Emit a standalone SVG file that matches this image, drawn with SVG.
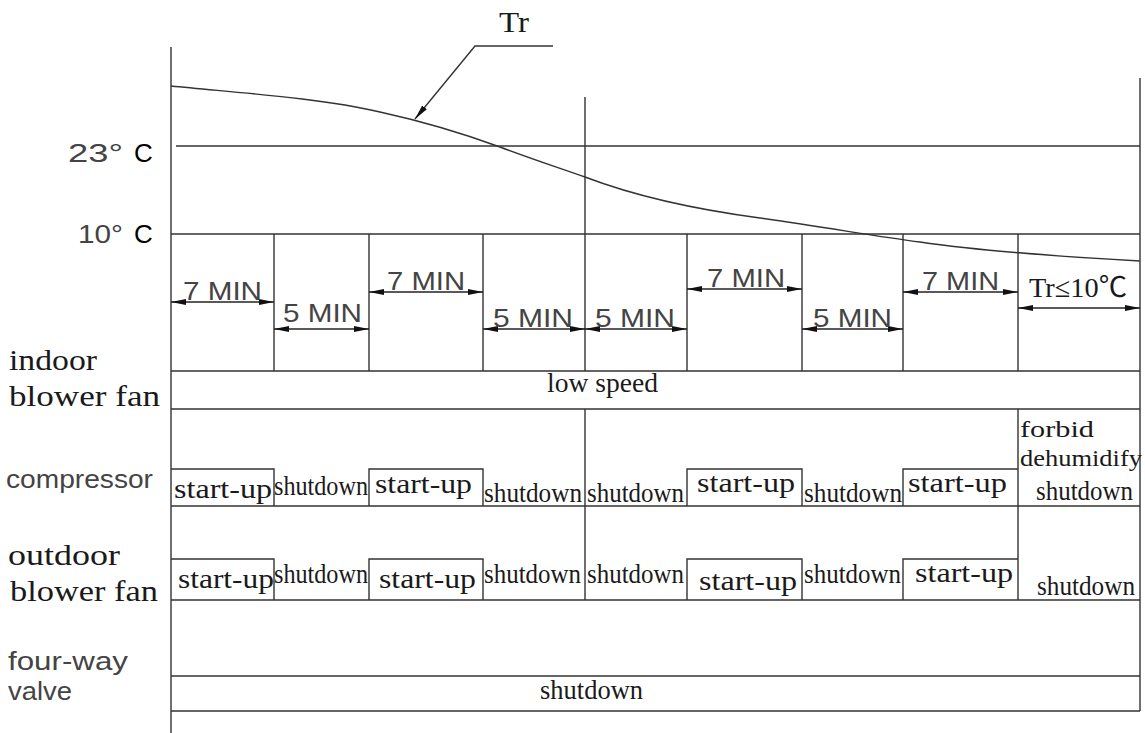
<svg xmlns="http://www.w3.org/2000/svg" width="1145" height="733" viewBox="0 0 1145 733">
<defs>
<marker id="ah" viewBox="0 0 16 8" refX="15" refY="4" markerWidth="16" markerHeight="8" markerUnits="userSpaceOnUse" orient="auto-start-reverse">
<path d="M0,1 L15,4 L0,7 z" fill="#111"/>
</marker>
<style>
.ln{stroke:#333;stroke-width:1.4;fill:none}
.dim{stroke:#222;stroke-width:1.3;fill:none;marker-start:url(#ah);marker-end:url(#ah)}
.cad{font-family:"Liberation Sans",Arial,sans-serif;font-size:26px;fill:#444}
.ser{font-family:"Liberation Serif","Times New Roman","Noto Sans CJK SC",serif;fill:#1a1a1a}
.row{font-size:27px}
.lbl{font-size:29px}
</style>
</defs>
<rect width="1145" height="733" fill="#fff"/>

<g id="grid">
<path class="ln" d="M171,47 V733"/>
<path class="ln" d="M176,146 H1140"/>
<path class="ln" d="M171,234 H1140"/>
<path class="ln" d="M585,97 V371 M585,409 V600"/>
<path class="ln" d="M1140,78 V711"/>
<path class="ln" d="M274,234 V371 M369,234 V371 M483,234 V371 M687,234 V371 M802,234 V371 M903,234 V371 M1018,234 V371"/>
<path class="ln" d="M171,371 H1140 M171,409 H1140"/>
<path class="ln" d="M1018,409 V600"/>
<path class="ln" d="M171,506 H1140 M171,600 H1140 M171,676 H1140 M171,711 H1140"/>
</g>

<g id="compressor-row">
<path class="ln" d="M171,469 H274 V506 M369,506 V469 H483 V506 M687,506 V469 H802 V506 M903,506 V469 H1018"/>
<text class="ser row" x="174" y="498" textLength="98" lengthAdjust="spacingAndGlyphs">start-up</text>
<text class="ser row" x="274" y="495" textLength="94" lengthAdjust="spacingAndGlyphs">shutdown</text>
<text class="ser row" x="375" y="493" textLength="97" lengthAdjust="spacingAndGlyphs">start-up</text>
<text class="ser row" x="484" y="502" textLength="98" lengthAdjust="spacingAndGlyphs">shutdown</text>
<text class="ser row" x="587" y="502" textLength="97" lengthAdjust="spacingAndGlyphs">shutdown</text>
<text class="ser row" x="697" y="492" textLength="98" lengthAdjust="spacingAndGlyphs">start-up</text>
<text class="ser row" x="804" y="502" textLength="98" lengthAdjust="spacingAndGlyphs">shutdown</text>
<text class="ser row" x="908" y="492" textLength="99" lengthAdjust="spacingAndGlyphs">start-up</text>
<text class="ser" x="1020" y="437" font-size="23" textLength="74" lengthAdjust="spacingAndGlyphs">forbid</text>
<text class="ser" x="1020" y="466" font-size="23" textLength="122" lengthAdjust="spacingAndGlyphs">dehumidify</text>
<text class="ser row" x="1036" y="500" textLength="97" lengthAdjust="spacingAndGlyphs">shutdown</text>
</g>

<g id="outdoor-row">
<path class="ln" d="M171,559 H274 V600 M369,600 V559 H483 V600 M687,600 V559 H802 V600 M903,600 V559 H1018"/>
<text class="ser row" x="178" y="588" textLength="96" lengthAdjust="spacingAndGlyphs">start-up</text>
<text class="ser row" x="274" y="583" textLength="94" lengthAdjust="spacingAndGlyphs">shutdown</text>
<text class="ser row" x="379" y="588" textLength="97" lengthAdjust="spacingAndGlyphs">start-up</text>
<text class="ser row" x="484" y="583" textLength="97" lengthAdjust="spacingAndGlyphs">shutdown</text>
<text class="ser row" x="587" y="583" textLength="97" lengthAdjust="spacingAndGlyphs">shutdown</text>
<text class="ser row" x="699" y="590" textLength="98" lengthAdjust="spacingAndGlyphs">start-up</text>
<text class="ser row" x="804" y="583" textLength="97" lengthAdjust="spacingAndGlyphs">shutdown</text>
<text class="ser row" x="915" y="582" textLength="98" lengthAdjust="spacingAndGlyphs">start-up</text>
<text class="ser row" x="1037" y="595" textLength="98" lengthAdjust="spacingAndGlyphs">shutdown</text>
</g>

<g id="indoor-row">
<text class="ser row" x="547" y="392" textLength="111" lengthAdjust="spacingAndGlyphs">low speed</text>
</g>

<g id="valve-row">
<text class="ser row" x="540" y="699" textLength="103" lengthAdjust="spacingAndGlyphs">shutdown</text>
</g>

<g id="curve">
<path class="ln" d="M171,86 C240,93 320,98 380,112 C430,123 470,136 500,147 C540,162 560,168 585,177 C640,198 700,210 760,218 C830,228 880,237 920,242 C980,251 1050,256 1140,261"/>
</g>

<g id="connectors">
<path class="ln" d="M553,46 H475 L415,119" style="marker-end:url(#ah)"/>
<path class="dim" d="M171,302 H274"/>
<path class="dim" d="M274,329 H369"/>
<path class="dim" d="M369,292 H483"/>
<path class="dim" d="M483,329 H585"/>
<path class="dim" d="M585,329 H687"/>
<path class="dim" d="M687,289 H802"/>
<path class="dim" d="M802,329 H903"/>
<path class="dim" d="M903,292 H1018"/>
<path class="dim" d="M1018,308 H1140"/>
</g>

<g id="dimension-labels">
<text class="cad" x="183" y="300" textLength="79" lengthAdjust="spacingAndGlyphs">7 MIN</text>
<text class="cad" x="283" y="322" textLength="79" lengthAdjust="spacingAndGlyphs">5 MIN</text>
<text class="cad" x="387" y="290" textLength="78" lengthAdjust="spacingAndGlyphs">7 MIN</text>
<text class="cad" x="493" y="327" textLength="80" lengthAdjust="spacingAndGlyphs">5 MIN</text>
<text class="cad" x="595" y="327" textLength="80" lengthAdjust="spacingAndGlyphs">5 MIN</text>
<text class="cad" x="707" y="287" textLength="78" lengthAdjust="spacingAndGlyphs">7 MIN</text>
<text class="cad" x="813" y="327" textLength="79" lengthAdjust="spacingAndGlyphs">5 MIN</text>
<text class="cad" x="922" y="290" textLength="77" lengthAdjust="spacingAndGlyphs">7 MIN</text>
<text class="ser" x="1029" y="297" font-size="28" textLength="98" lengthAdjust="spacingAndGlyphs">Tr≤10℃</text>
<text class="ser" x="499" y="32" font-size="30" textLength="30" lengthAdjust="spacingAndGlyphs">Tr</text>
</g>

<g id="axis-labels">
<text class="cad" x="68" y="162" font-size="30"><tspan textLength="55" lengthAdjust="spacingAndGlyphs">23°</tspan><tspan x="134" fill="#000">C</tspan></text>
<text class="cad" x="78" y="243" font-size="30"><tspan textLength="45" lengthAdjust="spacingAndGlyphs">10°</tspan><tspan x="134" fill="#000">C</tspan></text>
</g>

<g id="row-labels">
<text class="ser lbl" x="9" y="370" textLength="88" lengthAdjust="spacingAndGlyphs">indoor</text>
<text class="ser lbl" x="9" y="406" textLength="151" lengthAdjust="spacingAndGlyphs">blower fan</text>
<text class="cad" x="6" y="488" font-size="25" textLength="147" lengthAdjust="spacingAndGlyphs">compressor</text>
<text class="ser lbl" x="8" y="565" textLength="112" lengthAdjust="spacingAndGlyphs">outdoor</text>
<text class="ser lbl" x="10" y="601" textLength="148" lengthAdjust="spacingAndGlyphs">blower fan</text>
<text class="cad" x="8" y="670" font-size="25" textLength="120" lengthAdjust="spacingAndGlyphs">four-way</text>
<text class="cad" x="8" y="700" font-size="25" textLength="64" lengthAdjust="spacingAndGlyphs">valve</text>
</g>
</svg>
